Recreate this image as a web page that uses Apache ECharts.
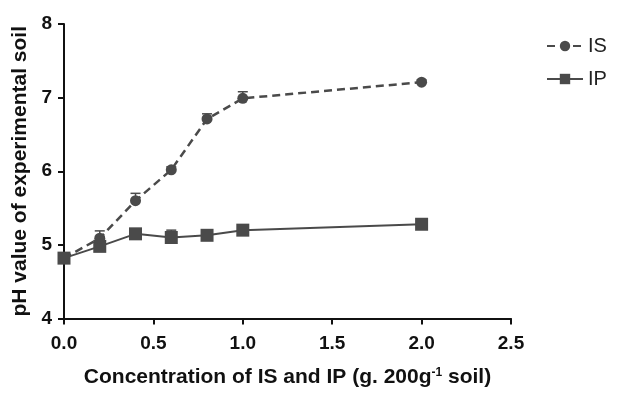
<!DOCTYPE html>
<html>
<head>
<meta charset="utf-8">
<style>
  html, body { margin: 0; padding: 0; background: #fff; }
  #chart { width: 617px; height: 393px; }
</style>
<script src="https://cdn.jsdelivr.net/npm/echarts@6/dist/echarts.min.js"></script>
</head>
<body>
<div id="chart"></div>
<script>
// 浓度（g / 200g soil）
const concentrations = [0, 0.2, 0.4, 0.6, 0.8, 1.0, 2.0]
// pH 均值
const isValues = [4.82, 5.09, 5.60, 6.02, 6.71, 6.99, 7.21]
const ipValues = [4.82, 4.98, 5.15, 5.10, 5.13, 5.20, 5.28]
// 误差（上方）
const isErrors = [0.04, 0.10, 0.10, 0.04, 0.07, 0.09, 0.03]
const ipErrors = [0.04, 0.05, 0.04, 0.10, 0.04, 0.04, 0.03]
const xTicks = ['0.0', '0.5', '1.0', '1.5', '2.0', '2.5']

const GRAY = '#4a4a4a'
const FONT = 'Liberation Sans, Arial, sans-serif'

const chart = echarts.init(document.getElementById('chart'))

// 误差线：竖线 + 顶部短横
function errorSeries(name, values, errors) {
  const data = concentrations.map((x, i) => [x, values[i], values[i] + errors[i]])
  return {
    name: name + '-err',
    type: 'custom',
    silent: true,
    z: 1,
    data,
    renderItem: (params, api) => {
      const p0 = api.coord([api.value(0), api.value(1)])
      const p1 = api.coord([api.value(0), api.value(2)])
      const cap = 5
      return {
        type: 'group',
        children: [
          { type: 'line', shape: { x1: p0[0], y1: p0[1], x2: p1[0], y2: p1[1] }, style: { stroke: GRAY, lineWidth: 1.5 } },
          { type: 'line', shape: { x1: p1[0] - cap, y1: p1[1], x2: p1[0] + cap, y2: p1[1] }, style: { stroke: GRAY, lineWidth: 1.5 } },
        ],
      }
    },
  }
}

chart.setOption({
  animation: false,
  grid: { left: 64, right: 106, top: 24, bottom: 70 },
  legend: {
    orient: 'vertical',
    left: 541,
    top: 31,
    itemWidth: 36,
    itemHeight: 13,
    itemGap: 13,
    data: ['IS', 'IP'],
    textStyle: { fontSize: 20, color: '#222', fontFamily: FONT },
  },
  xAxis: {
    type: 'value',
    min: 0,
    max: 2.5,
    interval: 0.5,
    name: 'Concentration of IS and IP (g. 200g{sup|-1} soil)',
    nameLocation: 'middle',
    nameGap: 48,
    nameTextStyle: {
      fontSize: 21, fontWeight: 'bold', color: '#111', fontFamily: FONT,
      rich: { sup: { fontSize: 12, fontWeight: 'bold', verticalAlign: 'top', padding: [0, 0, 10, 0], fontFamily: FONT } },
    },
    axisLine: { lineStyle: { color: '#111', width: 2 } },
    axisTick: { show: true, length: 6, lineStyle: { color: '#111', width: 2 } },
    axisLabel: {
      margin: 16, fontSize: 19, fontWeight: 'bold', color: '#111', fontFamily: FONT,
      formatter: (v) => xTicks[Math.round(v / 0.5)],
    },
    splitLine: { show: false },
  },
  yAxis: {
    type: 'value',
    min: 4,
    max: 8,
    interval: 1,
    name: 'pH value of experimental soil',
    nameLocation: 'middle',
    nameGap: 33,
    nameTextStyle: { fontSize: 21, fontWeight: 'bold', color: '#111', fontFamily: FONT },
    axisLine: { show: true, lineStyle: { color: '#111', width: 2 } },
    axisTick: { show: true, length: 6, lineStyle: { color: '#111', width: 2 } },
    axisLabel: { margin: 12, fontSize: 19, fontWeight: 'bold', color: '#111', fontFamily: FONT },
    splitLine: { show: false },
  },
  series: [
    errorSeries('IS', isValues, isErrors),
    errorSeries('IP', ipValues, ipErrors),
    {
      name: 'IS',
      type: 'line',
      z: 3,
      data: concentrations.map((x, i) => [x, isValues[i]]),
      symbol: 'circle',
      symbolSize: 11,
      lineStyle: { color: GRAY, width: 2.5, type: [8, 5] },
      itemStyle: { color: GRAY },
    },
    {
      name: 'IP',
      type: 'line',
      z: 2,
      data: concentrations.map((x, i) => [x, ipValues[i]]),
      symbol: 'rect',
      symbolSize: 13,
      lineStyle: { color: GRAY, width: 2 },
      itemStyle: { color: GRAY },
    },
  ],
})
</script>
</body>
</html>
